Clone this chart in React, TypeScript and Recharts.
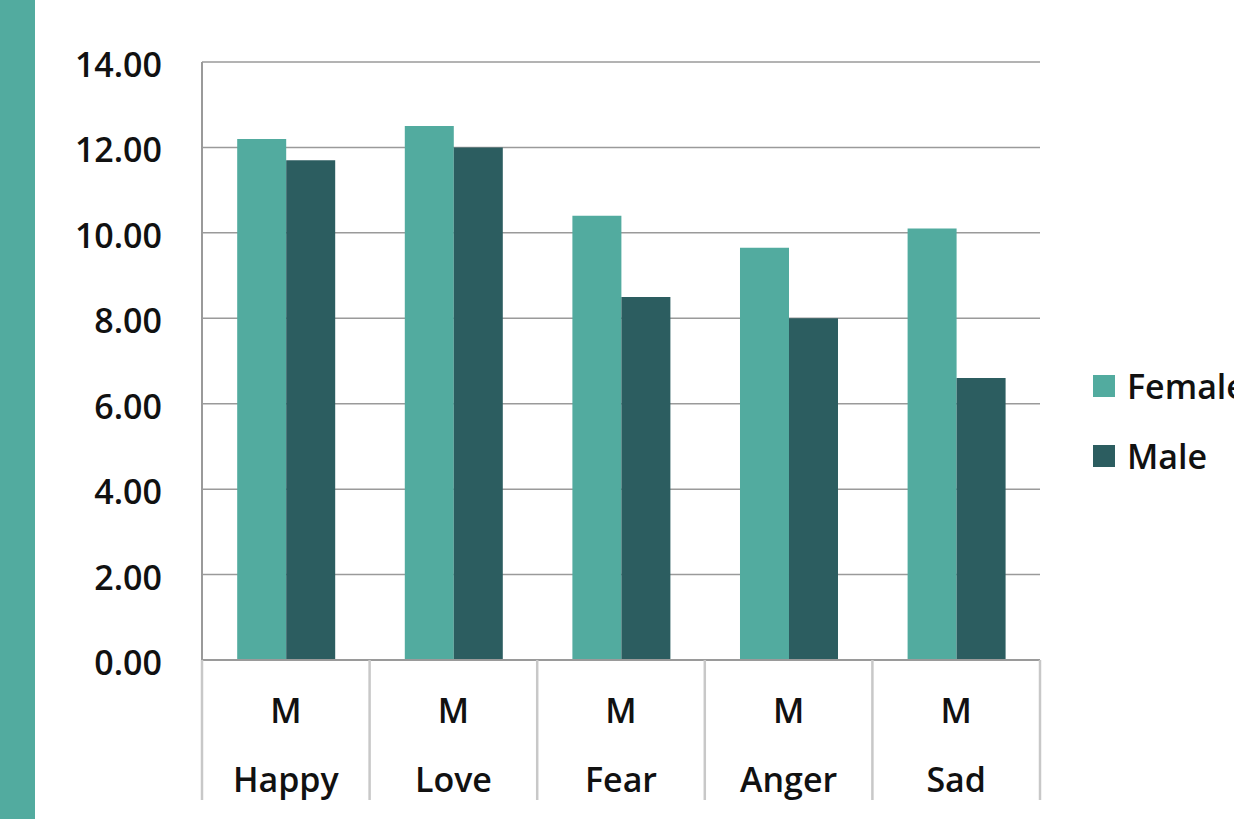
import React from 'react';
import { BarChart, Bar, XAxis, YAxis, CartesianGrid, Legend } from 'recharts';

const categories = ['Happy', 'Love', 'Fear', 'Anger', 'Sad'];
const subLabels = ['M', 'M', 'M', 'M', 'M'];
const femaleValues = [12.2, 12.5, 10.4, 9.65, 10.1];
const maleValues = [11.7, 12.0, 8.5, 8.0, 6.6];
const yTicks = [0, 2, 4, 6, 8, 10, 12, 14];
const seriesNames = ['Female', 'Male'];

const FEMALE = '#52ab9f';
const MALE = '#2c5d60';
const FONT = '"Open Sans", Lato, sans-serif';
const FS = 34;
const FW = 600;

const data = categories.map((c, i) => ({
  name: c,
  sub: subLabels[i],
  Female: femaleValues[i],
  Male: maleValues[i],
}));

const CatTick = (props: any) => {
  const { x, y, payload, index } = props;
  const half = payload && payload.offset ? payload.offset : 84;
  const last = index === categories.length - 1;
  return (
    <g>
      <line x1={x - half} x2={x - half} y1={y} y2={y + 140} stroke="#c8c8c8" strokeWidth={2.5} />
      {last && <line x1={x + half} x2={x + half} y1={y} y2={y + 140} stroke="#c8c8c8" strokeWidth={2.5} />}
      <text x={x} y={y + 63} textAnchor="middle" fontFamily={FONT} fontSize={FS} fontWeight={FW} fill="#111">
        {subLabels[index]}
      </text>
      <text x={x} y={y + 132} textAnchor="middle" fontFamily={FONT} fontSize={FS} fontWeight={FW} fill="#111">
        {payload.value}
      </text>
    </g>
  );
};

const LegendContent = () => (
  <div style={{ fontFamily: FONT, fontSize: FS, fontWeight: FW, color: '#111' }}>
    {seriesNames.map((n, i) => (
      <div key={n} style={{ display: 'flex', alignItems: 'center', height: 70 }}>
        <div style={{ width: 22, height: 22, background: i === 0 ? FEMALE : MALE, marginRight: 12 }} />
        <span style={{ whiteSpace: 'nowrap' }}>{n}</span>
      </div>
    ))}
  </div>
);

export default function App() {
  return (
    <div style={{ position: 'absolute', left: 0, top: 0, width: 1234, height: 819, background: '#fff', overflow: 'hidden' }}>
      <div style={{ position: 'absolute', left: 0, top: 0, width: 35, height: 819, background: FEMALE }} />
      <div style={{ position: 'absolute', left: 0, top: 0 }}>
        <BarChart
          width={1234}
          height={819}
          data={data}
          margin={{ top: 62, right: 194, bottom: 0, left: 42 }}
          barCategoryGap="21%"
          barGap={0}
        >
          <CartesianGrid vertical={false} stroke="#9a9a9a" strokeWidth={1.5} />
          <XAxis
            dataKey="name"
            interval={0}
            height={159}
            tickLine={false}
            tickSize={0}
            tickMargin={0}
            axisLine={{ stroke: '#9a9a9a', strokeWidth: 2 }}
            tick={<CatTick />}
          />
          <YAxis
            domain={[0, 14]}
            ticks={yTicks}
            width={160}
            tickLine={false}
            tickSize={0}
            tickMargin={40}
            axisLine={{ stroke: '#9a9a9a', strokeWidth: 2 }}
            tick={{ fontFamily: FONT, fontSize: FS, fontWeight: FW, fill: '#111', dy: 3 }}
            tickFormatter={(v: number) => v.toFixed(2)}
          />
          <Legend
            layout="horizontal"
            align="center"
            verticalAlign="middle"
            content={<LegendContent />}
            wrapperStyle={{ position: 'absolute', left: 1093, top: 351, width: 200 }}
          />
          <Bar dataKey="Female" fill={FEMALE} isAnimationActive={false} />
          <Bar dataKey="Male" fill={MALE} isAnimationActive={false} />
        </BarChart>
      </div>
    </div>
  );
}
